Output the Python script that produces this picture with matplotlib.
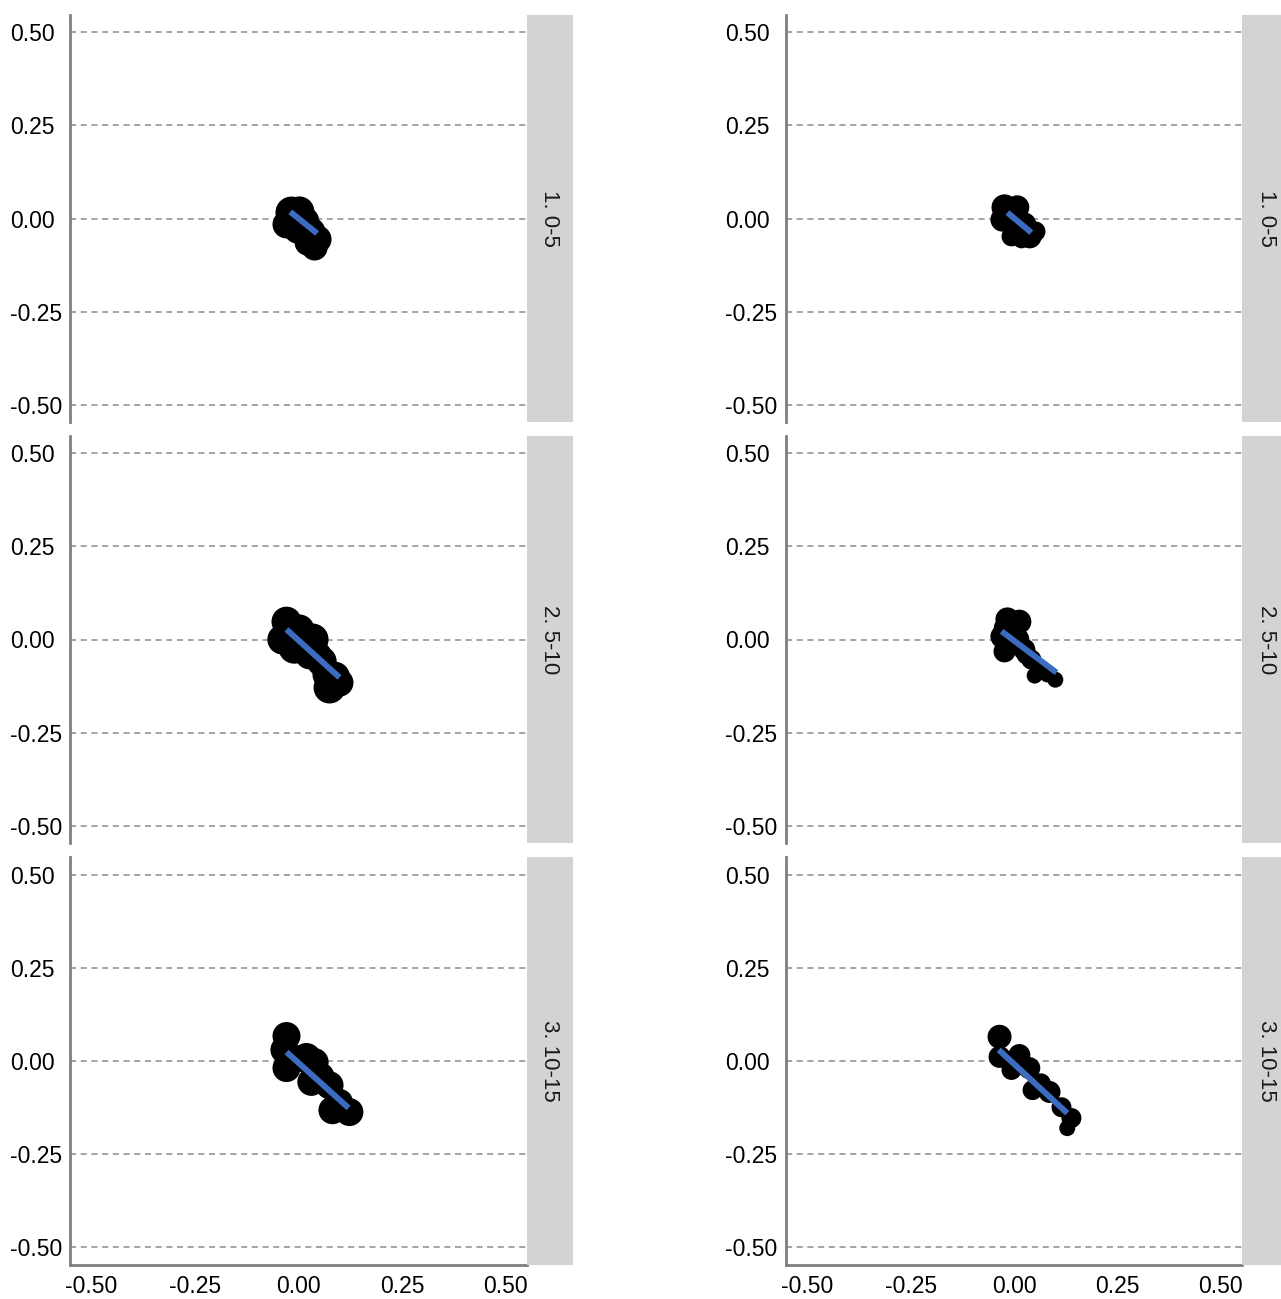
import matplotlib
matplotlib.use("Agg")
import matplotlib.pyplot as plt

plt.rcParams["font.family"] = ["Liberation Sans", "DejaVu Sans"]

strip_labels = ["1. 0-5", "2. 5-10", "3. 10-15"]
tick_vals = [-0.50, -0.25, 0.00, 0.25, 0.50]
tick_text = ["-0.50", "-0.25", "0.00", "0.25", "0.50"]

# left column, row 1..3 : x, y, marker diameter (px)
x_l1 = [-0.017, 0.002, -0.029, 0.014, -0.002, 0.031, 0.046, 0.039, 0.022, 0.020, -0.012]
y_l1 = [0.016, 0.019, -0.016, -0.008, -0.030, -0.035, -0.056, -0.078, -0.065, -0.045, -0.010]
d_l1 = [32, 30, 28, 30, 28, 28, 28, 26, 26, 28, 30]
fit_l1_x = [-0.020, 0.045]
fit_l1_y = [0.018, -0.040]

x_l2 = [-0.029, -0.039, -0.010, 0.002, 0.034, 0.027, 0.056, 0.070, 0.075, 0.099, -0.020, 0.015, 0.045, 0.088]
y_l2 = [0.048, 0.000, -0.022, 0.027, 0.000, -0.040, -0.059, -0.094, -0.129, -0.116, 0.020, -0.015, -0.045, -0.100]
d_l2 = [30, 30, 32, 30, 32, 30, 30, 30, 32, 28, 32, 32, 30, 30]
fit_l2_x = [-0.029, 0.099]
fit_l2_y = [0.027, -0.102]

x_l3 = [-0.029, -0.034, -0.029, 0.019, 0.039, 0.031, 0.075, 0.082, 0.123, -0.020, 0.055, 0.100]
y_l3 = [0.067, 0.030, -0.019, 0.008, -0.003, -0.056, -0.065, -0.132, -0.137, 0.010, -0.040, -0.110]
d_l3 = [28, 28, 28, 30, 28, 28, 28, 28, 28, 28, 26, 26]
fit_l3_x = [-0.029, 0.121]
fit_l3_y = [0.024, -0.126]

# right column
x_r1 = [-0.023, 0.008, -0.028, 0.001, 0.025, -0.006, 0.038, 0.052, 0.018, -0.010, 0.030]
y_r1 = [0.030, 0.030, -0.003, -0.008, -0.016, -0.048, -0.048, -0.035, -0.056, 0.015, -0.030]
d_r1 = [26, 24, 24, 26, 24, 20, 24, 20, 18, 26, 24]
fit_r1_x = [-0.016, 0.042]
fit_r1_y = [0.016, -0.038]

x_r2 = [-0.016, 0.013, -0.028, -0.023, 0.008, 0.025, 0.042, 0.062, 0.081, 0.100, 0.050, -0.020, 0.030, -0.005]
y_r2 = [0.054, 0.048, 0.008, -0.032, 0.000, -0.027, -0.054, -0.081, -0.094, -0.108, -0.097, 0.030, -0.040, 0.040]
d_r2 = [24, 24, 24, 22, 24, 22, 20, 18, 16, 16, 16, 24, 20, 24]
fit_r2_x = [-0.030, 0.103]
fit_r2_y = [0.022, -0.089]

x_r3 = [-0.035, -0.035, -0.006, 0.013, 0.037, 0.045, 0.086, 0.115, 0.139, 0.129, 0.020, 0.065]
y_r3 = [0.065, 0.011, -0.024, 0.016, -0.019, -0.078, -0.083, -0.124, -0.153, -0.180, -0.010, -0.060]
d_r3 = [24, 22, 20, 22, 22, 20, 22, 20, 20, 16, 20, 20]
fit_r3_x = [-0.037, 0.129]
fit_r3_y = [0.030, -0.140]

panels = [
    [(x_l1, y_l1, d_l1, fit_l1_x, fit_l1_y), (x_r1, y_r1, d_r1, fit_r1_x, fit_r1_y)],
    [(x_l2, y_l2, d_l2, fit_l2_x, fit_l2_y), (x_r2, y_r2, d_r2, fit_r2_x, fit_r2_y)],
    [(x_l3, y_l3, d_l3, fit_l3_x, fit_l3_y), (x_r3, y_r3, d_r3, fit_r3_x, fit_r3_y)],
]

W, H = 1281, 1299
fig = plt.figure(figsize=(W / 100, H / 100), dpi=100)

col_px = [(70, 457, 46, 10), (786, 456, 39, 725)]  # axes left, width, strip width, label x
row_px = [(15, 407), (436, 407), (857, 408)]  # top, height

pt = 100 / 72

for r, (top, h) in enumerate(row_px):
    for c, (left, w, sw, lab_x) in enumerate(col_px):
        xs, ys, ds, fx, fy = panels[r][c]
        ax = fig.add_axes([left / W, 1 - (top + h) / H, w / W, h / H])
        ax.set_xlim(-0.552, 0.552)
        ax.set_ylim(-0.547, 0.547)
        for v in tick_vals:
            ax.axhline(v, color="#8c8c8c", lw=1.1, ls=(0, (4, 3)), zorder=1)
        ax.scatter(xs, ys, s=[(d / pt) ** 2 for d in ds], color="black",
                   linewidths=0, zorder=3)
        ax.plot(fx, fy, color="#3b6cbf", lw=4.3, solid_capstyle="butt", zorder=4)

        ax.set_yticks(tick_vals)
        ax.set_yticklabels(tick_text, fontsize=16.5, color="black", ha="left")
        ax.tick_params(axis="y", length=0, pad=(left - lab_x) / pt)
        for s in ["top", "right"]:
            ax.spines[s].set_visible(False)
        ax.spines["left"].set_color("#7f7f7f")
        ax.spines["left"].set_linewidth(2)
        if r == 2:
            ax.spines["bottom"].set_color("#7f7f7f")
            ax.spines["bottom"].set_linewidth(2)
            ax.set_xticks(tick_vals)
            ax.set_xticklabels(tick_text, fontsize=16.5, color="black")
            ax.tick_params(axis="x", length=0, pad=7)
        else:
            ax.spines["bottom"].set_visible(False)
            ax.set_xticks([])

        # facet strip
        sax = fig.add_axes([(left + w) / W, 1 - (top + h) / H, sw / W, h / H])
        sax.set_facecolor("#d3d3d3")
        sax.set_xticks([])
        sax.set_yticks([])
        for s in sax.spines.values():
            s.set_visible(False)
        sax.text(0.5 if c == 0 else 0.62, 0.5, strip_labels[r], rotation=-90,
                 ha="center", va="center", fontsize=16, color="#1a1a1a",
                 transform=sax.transAxes)

fig.savefig("out.png", dpi=100)
